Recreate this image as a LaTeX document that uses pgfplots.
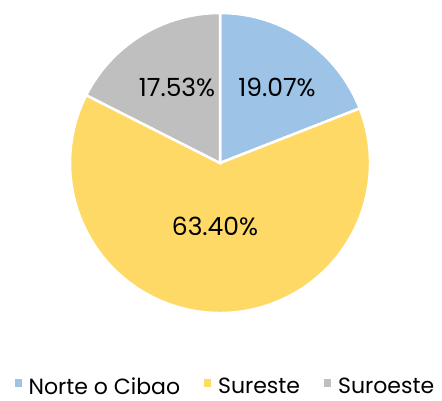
\documentclass[border=0pt]{standalone}
\usepackage{pgfplots}
\pgfplotsset{compat=1.18}
\usepackage{pgfplotstable}
\usepackage{fontspec}
\setmainfont{Poppins}
\definecolor{norte}{HTML}{9DC3E6}
\definecolor{sureste}{HTML}{FFD966}
\definecolor{suroeste}{HTML}{BFBFBF}

\pgfplotstableread{
region value
Norte 19.07
Sureste 63.40
Suroeste 17.53
}\piedata

\begin{document}
\begin{tikzpicture}
\pgfplotstablegetelem{0}{value}\of\piedata \let\va\pgfplotsretval
\pgfplotstablegetelem{1}{value}\of\piedata \let\vb\pgfplotsretval
\pgfplotstablegetelem{2}{value}\of\piedata \let\vc\pgfplotsretval
\begin{axis}[
  scale only axis, width=442pt, height=401pt,
  xmin=0, xmax=442, ymin=0, ymax=401,
  hide axis, clip=false,
  legend columns=3,
  legend style={draw=none, fill=none, at={(0.51,0.036)}, anchor=center,
    inner sep=0pt, font=\fontsize{22}{25}\selectfont,
    /tikz/every even column/.append style={column sep=22pt}},
  legend image code/.code={\fill[#1, draw=none] (0pt,0pt) rectangle (7pt,8pt);
    \path[draw=none, fill=none] (0pt,0pt) -- (12pt,0pt);},
]
% sectors, clockwise from 12 o'clock
\fill[norte, draw=white, line width=2.5pt] (axis cs:220,238) -- ++(90:150pt)
  arc[start angle=90, end angle={90-3.6*\va}, radius=150pt] -- cycle;
\fill[sureste, draw=white, line width=2.5pt] (axis cs:220,238) -- ++({90-3.6*\va}:150pt)
  arc[start angle={90-3.6*\va}, end angle={90-3.6*(\va+\vb)}, radius=150pt] -- cycle;
\fill[suroeste, draw=white, line width=2.5pt] (axis cs:220,238) -- ++({90-3.6*(\va+\vb)}:150pt)
  arc[start angle={90-3.6*(\va+\vb)}, end angle=-270, radius=150pt] -- cycle;

\tikzset{pielabel/.style={font=\fontsize{25}{28}\selectfont, anchor=base, inner sep=0pt}}
\node[pielabel] at (axis cs:277,304) {19.07\%};
\node[pielabel] at (axis cs:177,304) {17.53\%};
\node[pielabel] at (axis cs:215,165) {63.40\%};

\addlegendimage{norte}\addlegendentry{Norte o Cibao}
\addlegendimage{sureste}\addlegendentry{Sureste}
\addlegendimage{suroeste}\addlegendentry{Suroeste}
\end{axis}
\pgfresetboundingbox
\useasboundingbox (0,0) rectangle (442pt,401pt);
\end{tikzpicture}
\end{document}
